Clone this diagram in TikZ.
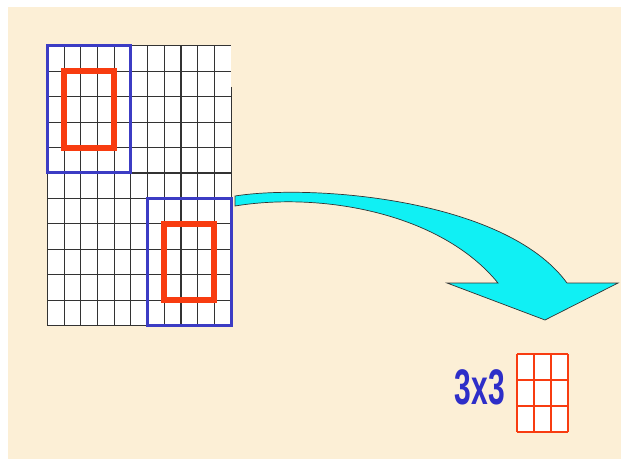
\documentclass[tikz,border=0pt]{standalone}
\usepackage{fontspec}
\setmainfont{Liberation Sans}
\definecolor{bgbeige}{HTML}{FCEFD6}
\definecolor{winblue}{HTML}{3C3CC4}
\definecolor{kernred}{HTML}{F83C10}
\definecolor{arrcyan}{HTML}{10F0F4}
\definecolor{txtblue}{HTML}{2E2EC8}

\begin{document}
\begin{tikzpicture}[
    x=1pt, y=-1pt,
    cellline/.style={draw=black!80, line width=1.1pt},
    winbox/.style={draw=winblue, line width=3pt},
    kernbox/.style={draw=kernred, line width=6pt},
    smallline/.style={draw=kernred, line width=1.8pt},
    bigarrow/.style={fill=arrcyan, draw=black!80, line width=0.7pt},
    dimlbl/.style={text=txtblue, inner sep=0pt,
        font=\bfseries\fontsize{50}{50}\selectfont}
]
\useasboundingbox (0,0) rectangle (621,459);
\fill[bgbeige] (8,7) rectangle (621,459);

% ----------------------------------------------------------
% Eingabe: 11 x 11 Gitter
% ----------------------------------------------------------
\begin{scope}[shift={(47.4,45.7)}, x=16.7pt, y=-25.45pt]
    \fill[white] (0,0) rectangle (11,11);
    \foreach \c in {0,...,10}
        \draw[cellline] (\c,0) -- (\c,11);
    \draw[cellline] (11,1.62) -- (11,11);
    \foreach \r in {0,...,11}
        \draw[cellline] (0,\r) -- (11,\r);

    % Fenster (blau) und 3x3-Kern (rot)
    \draw[winbox] (0,0) rectangle (5,5);
    \draw[winbox] (6,6) rectangle (11,11);
    \draw[kernbox] (1,1) rectangle (4,4);
    \draw[kernbox] (7,7) rectangle (10,10);
\end{scope}

% gebogener Pfeil nach rechts unten
\filldraw[bigarrow] (235,196) .. controls (310,184) and (505,198) .. (567,283)
    -- (618,283) -- (545,320) -- (447,283) -- (498,283)
    .. controls (440,212) and (320,192) .. (235,206) -- cycle;

% ----------------------------------------------------------
% Ausgabe: 3 x 3 Kern
% ----------------------------------------------------------
\node[dimlbl] (kdim) at (480,387) {\scalebox{0.6}[1]{3x3}};

\begin{scope}[shift={(517.3,354)}, x=16.8pt, y=-25.9pt]
    \fill[white] (0,0) rectangle (3,3);
    \foreach \i in {0,...,3} {
        \draw[smallline] (\i,0) -- (\i,3);
        \draw[smallline] (0,\i) -- (3,\i);
    }
\end{scope}

\end{tikzpicture}
\end{document}
